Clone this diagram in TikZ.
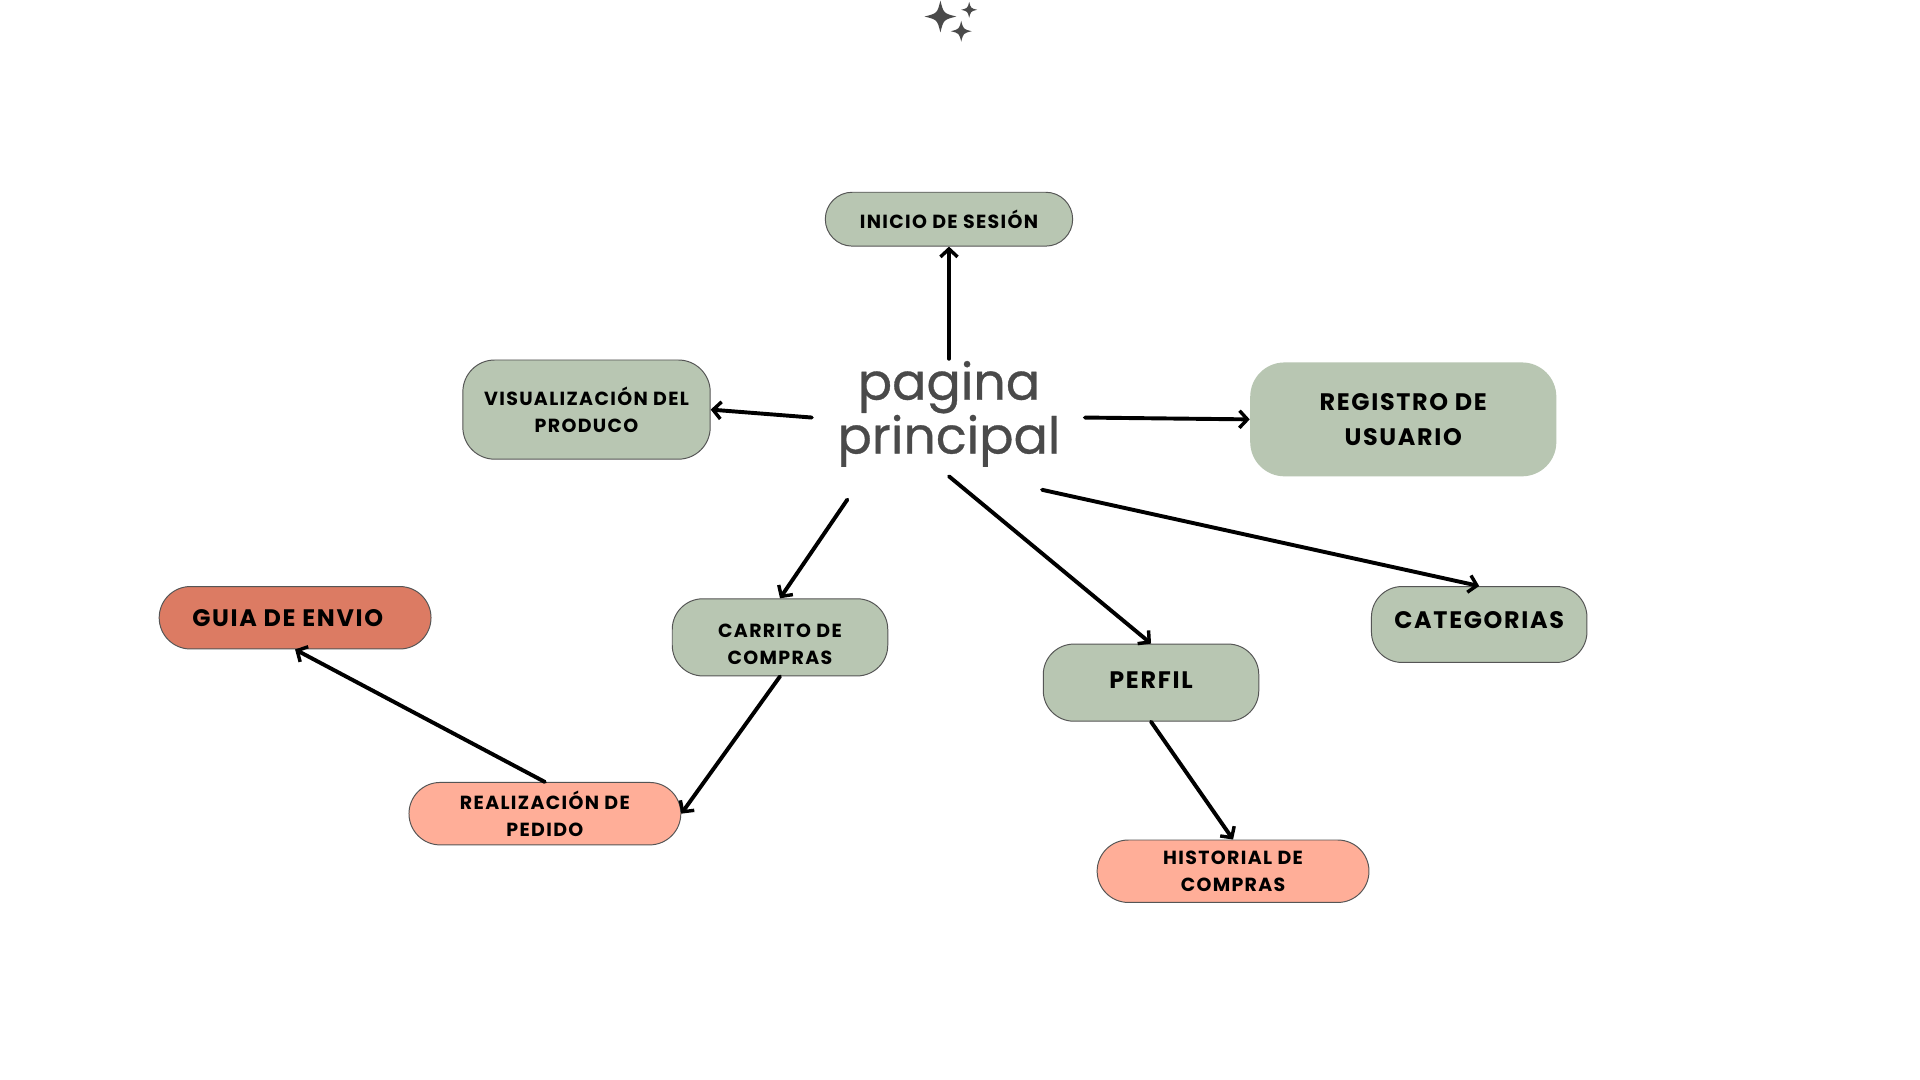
\documentclass[tikz,border=0pt]{standalone}
\usepackage{fontspec}
\setmainfont{Poppins}
\newfontfamily\labfont{Poppins}[LetterSpace=7.0]
\newfontfamily\titlefont{Poppins}[FakeBold=0.6]
\usetikzlibrary{arrows.meta}
\definecolor{sage}{HTML}{B8C6B2}
\definecolor{terra}{HTML}{DC7B63}
\definecolor{salmon}{HTML}{FFAE98}
\definecolor{darkgray}{HTML}{4A4A4A}
\definecolor{edge}{HTML}{555555}
\tikzset{
  boxtext/.style={align=center, inner sep=0pt, text=black,
    font=\labfont\fontsize{15.5}{22}\selectfont\bfseries},
  bigtext/.style={boxtext, font=\labfont\fontsize{19.5}{29}\selectfont\bfseries},
  box/.style={draw=edge, line width=0.8pt, fill=sage, boxtext},
  bigbox/.style={box, bigtext},
  conn/.style={line width=3.2pt, line cap=round, -{Straight Barb[length=6.5pt,width=14pt,line width=2.8pt]}},
  starshape/.style={fill=darkgray, draw=none}
}
\newcommand{\sparkle}[3]{%
  \fill[starshape] (#1,#2-#3) .. controls (#1+0.2*#3,#2-0.2*#3) .. (#1+#3,#2)
    .. controls (#1+0.2*#3,#2+0.2*#3) .. (#1,#2+#3)
    .. controls (#1-0.2*#3,#2+0.2*#3) .. (#1-#3,#2)
    .. controls (#1-0.2*#3,#2-0.2*#3) .. cycle;}
\begin{document}
\begin{tikzpicture}[x=1pt,y=-1pt]
\useasboundingbox[fill=white] (0,0) rectangle (1568,882);
% sparkles
\sparkle{768}{13.5}{13}
\sparkle{791.5}{8}{6.5}
\sparkle{785}{25.5}{8.5}
% nodes
\node[box, minimum width=202pt, minimum height=44pt, rounded corners=22pt] (inicio) at (775,179) {INICIO DE SESIÓN};
\node[box, minimum width=202pt, minimum height=81pt, rounded corners=26pt] (visual) at (479,334.5) {VISUALIZACIÓN DEL\\PRODUCO};
\node[bigbox, draw=none, minimum width=250pt, minimum height=93pt, rounded corners=28pt] (registro) at (1146,342.5) {REGISTRO DE\\USUARIO};
\node[bigbox, fill=terra, minimum width=222pt, minimum height=51pt, rounded corners=25.5pt] (guia) at (241,504.5) {\hspace*{-12pt}GUIA DE ENVIO};
\node[box, minimum width=176pt, minimum height=63pt, rounded corners=25pt,
  label={[boxtext, yshift=-6pt]center:{CARRITO DE\\COMPRAS}}] (carrito) at (637,520.5) {};
\node[bigbox, minimum width=176pt, minimum height=63pt, rounded corners=25pt,
  label={[bigtext, yshift=2pt]center:PERFIL}] (perfil) at (940,557.5) {};
\node[bigbox, minimum width=176pt, minimum height=62pt, rounded corners=25pt,
  label={[bigtext, yshift=4pt]center:CATEGORIAS}] (categ) at (1208,510) {};
\node[box, fill=salmon, minimum width=222pt, minimum height=51pt, rounded corners=25.5pt] (realiz) at (445,664.5) {REALIZACIÓN DE\\PEDIDO};
\node[box, fill=salmon, minimum width=222pt, minimum height=51pt, rounded corners=25.5pt] (hist) at (1007,711.5) {HISTORIAL DE\\COMPRAS};
\node[align=center, text=darkgray, font=\titlefont\fontsize{41.5}{44}\selectfont, inner sep=0pt] (pp) at (775,338) {pagina\\principal};
% connector start points around the central title
\coordinate (sUp) at (775,293);
\coordinate (sLeft) at (663,341);
\coordinate (sRight) at (886,341);
\coordinate (sCar) at (692,408);
\coordinate (sPer) at (775,389);
\coordinate (sCat) at (851,400);
% connectors
\draw[conn] (sUp) -- (inicio.south);
\draw[conn] (sLeft) -- (visual.east);
\draw[conn] (sRight) -- (registro.west);
\draw[conn] (sCar) -- (carrito.north);
\draw[conn] (sPer) -- (perfil.north);
\draw[conn] (sCat) -- (categ.north);
\draw[conn] (carrito.south) -- (realiz.east);
\draw[conn] (realiz.north) -- (guia.south);
\draw[conn] (perfil.south) -- (hist.north);
\end{tikzpicture}
\end{document}
